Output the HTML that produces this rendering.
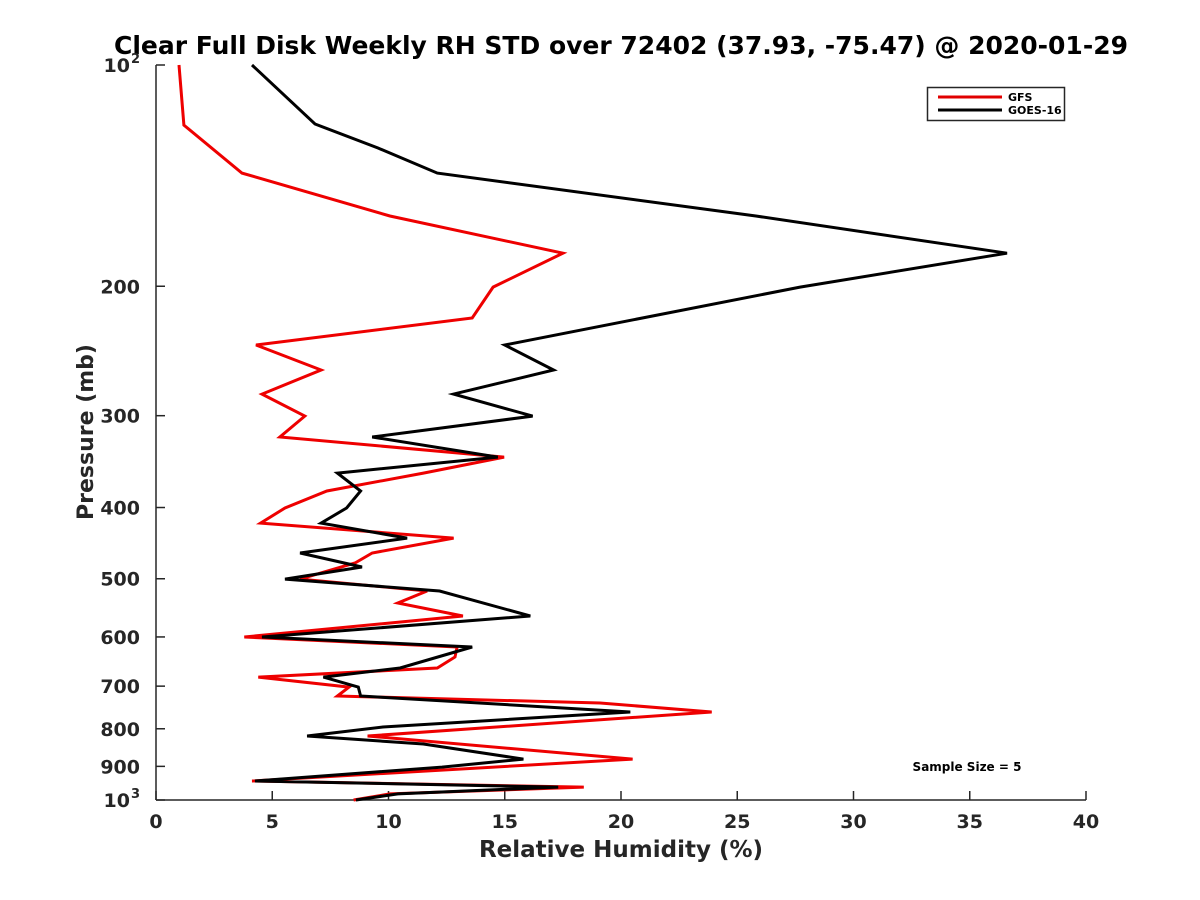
<!DOCTYPE html>
<html><head><meta charset="utf-8"><style>
body{margin:0;background:#fff;}
svg{display:block;font-family:"DejaVu Sans","Liberation Sans",sans-serif;font-weight:bold;}
</style></head><body>
<svg id="chart" width="1200" height="900" viewBox="0 0 1200 900" xmlns="http://www.w3.org/2000/svg">
<rect width="1200" height="900" fill="#fff"/>
<text x="621" y="54" text-anchor="middle" font-size="25" fill="#000">Clear Full Disk Weekly RH STD over 72402 (37.93, -75.47) @ 2020-01-29</text>
<g id="axes"></g>
<g id="series"></g>
<text x="621" y="857" text-anchor="middle" font-size="23" fill="#262626">Relative Humidity (%)</text>
<text transform="translate(93,432) rotate(-90)" text-anchor="middle" font-size="22" fill="#262626">Pressure (mb)</text>
<text x="967" y="771" text-anchor="middle" font-size="12" fill="#000">Sample Size = 5</text>
<g>
<rect x="927.5" y="87.5" width="137" height="33" fill="#fff" stroke="#262626" stroke-width="1.5"/>
<line x1="938" y1="97" x2="1002" y2="97" stroke="#e00000" stroke-width="3"/>
<text x="1008" y="101" font-size="11" fill="#000">GFS</text>
<line x1="938" y1="110" x2="1002" y2="110" stroke="#000" stroke-width="3"/>
<text x="1008" y="114" font-size="11" fill="#000">GOES-16</text>
</g>
</svg>
<script>
const xTicks=[0,5,10,15,20,25,30,35,40];
const yTicks=[100,200,300,400,500,600,700,800,900,1000];
const yTickLabels=["","200","300","400","500","600","700","800","900",""];
const gfsPressure=[100,120.7,140.3,160.5,180.3,200.5,220.9,240.4,260,280.4,300.4,320.7,341.6,359.1,379.8,400.6,420,440.2,461.3,476,500.5,519.6,539.5,561.9,600.1,619.2,639,661.4,680.4,702,722,738,759,818.3,879.7,942.3,960.5,981,1000];
const gfsValues=[0.99,1.2,3.7,10.06,17.5,14.5,13.6,4.3,7.1,4.56,6.4,5.33,14.97,11.5,7.35,5.55,4.5,12.8,9.3,8.56,6.2,11.66,10.4,13.2,3.8,12.95,12.86,12.1,4.4,8.3,7.8,19.1,23.9,9.1,20.5,4.13,18.4,10.06,8.5];
const goesPressure=[100,120.3,129.7,140.3,160.5,180.3,200.5,240.4,260,280.4,300.4,320.7,341.6,359.1,379.8,400.6,420,440.2,461.3,482,500.5,519.6,561.9,600.1,619.2,661.4,680.4,702,722,759,795.6,818.3,839,879.7,902,942.3,960.5,981,1000];
const goesValues=[4.13,6.84,9.55,12.1,25.8,36.6,27.7,15.0,17.1,12.8,16.2,9.3,14.7,7.8,8.8,8.2,7.1,10.8,6.2,8.86,5.55,12.2,16.1,4.56,13.6,10.5,7.2,8.7,8.8,20.4,9.76,6.5,11.5,15.8,12.3,4.26,17.3,10.4,8.6];

const X0=156,X1=1086,Y0=65,Y1=800;
const xs=v=>X0+(v-0)/(40-0)*(X1-X0);
const ys=p=>Y0+(Math.log10(p)-2)*(Y1-Y0);
const NS="http://www.w3.org/2000/svg";
function mk(tag,attrs,parent){const e=document.createElementNS(NS,tag);for(const k in attrs)e.setAttribute(k,attrs[k]);parent.appendChild(e);return e;}
const axes=document.getElementById('axes');
const yAxis=mk('line',{x1:X0,y1:Y0,x2:X0,y2:Y1,stroke:'#262626','stroke-width':1.5},axes);


const xAxis=mk('line',{x1:X0,y1:Y1,x2:X1,y2:Y1,stroke:'#262626','stroke-width':1.5},axes);


xTicks.forEach(v=>{
  const x=xs(v);
  const t=mk('line',{x1:x,y1:Y1,x2:x,y2:Y1-9,stroke:'#262626','stroke-width':1.5},axes);
  
  
  const l=mk('text',{x:x,y:Y1+28,'text-anchor':'middle','font-size':19,fill:'#262626'},axes);
  l.textContent=String(v);
  
  
});
yTicks.forEach((p,i)=>{
  const y=ys(p);
  const t=mk('line',{x1:X0,y1:y,x2:X0+9,y2:y,stroke:'#262626','stroke-width':1.5},axes);
  
  
  if(yTickLabels[i]){
    const l=mk('text',{x:X0-16,y:y+7,'text-anchor':'end','font-size':19,fill:'#262626'},axes);
    l.textContent=yTickLabels[i];
    
    
  }
});
[[100,"2"],[1000,"3"]].forEach(([p,e])=>{
  const y=ys(p);
  const l=mk('text',{x:X0-26,y:y+7,'text-anchor':'end','font-size':19,fill:'#262626'},axes);
  l.textContent="10";
  
  
  const s=mk('text',{x:X0-25,y:y-2,'text-anchor':'start','font-size':13,fill:'#262626'},axes);
  s.textContent=e;
  
  
});
const series=document.getElementById('series');
function draw(vals,pres,color,name){
  const pts=vals.map((v,i)=>xs(v).toFixed(1)+','+ys(pres[i]).toFixed(1)).join(' ');
  const pl=mk('polyline',{points:pts,fill:'none',stroke:color,'stroke-width':3,'stroke-linejoin':'miter'},series);
  
  
}
draw(gfsValues,gfsPressure,'#ee0000','gfs-line');
draw(goesValues,goesPressure,'#000000','goes16-line');
</script>
</body></html>
